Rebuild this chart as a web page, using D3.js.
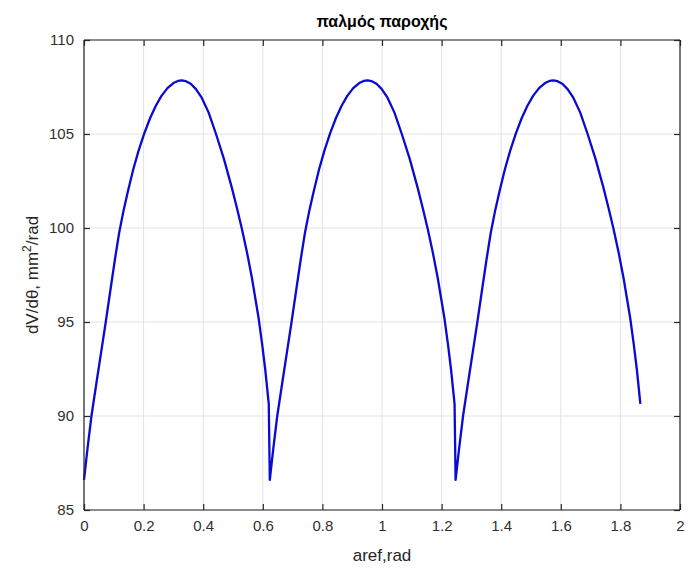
<!DOCTYPE html>
<html>
<head>
<meta charset="utf-8">
<script src="https://cdn.jsdelivr.net/npm/d3@7/dist/d3.min.js"></script>
<style>
  html, body { margin: 0; padding: 0; background: #fff; }
  svg { display: block; font-family: "Liberation Sans", Arial, Helvetica, sans-serif; }
</style>
</head>
<body>
<svg id="chart" width="690" height="572"></svg>
<script>
// ---- data ----
const titleText = "παλμός παροχής";
const xLabelText = "aref,rad";
const xTicks = [0, 0.2, 0.4, 0.6, 0.8, 1, 1.2, 1.4, 1.6, 1.8, 2];
const yTicks = [85, 90, 95, 100, 105, 110];
const xs = [
  0.000, 0.012, 0.025, 0.045, 0.060, 0.073, 0.090, 0.104, 0.118, 0.133, 0.148, 0.165, 0.183, 0.202, 0.222, 0.241,
  0.260, 0.280, 0.300, 0.315, 0.328, 0.342, 0.358, 0.375, 0.395, 0.418, 0.443, 0.470, 0.496, 0.513, 0.530, 0.547,
  0.564, 0.586, 0.598, 0.608, 0.620,
  0.6235, 0.6355, 0.6485, 0.6685, 0.6835, 0.6965, 0.7135, 0.7275, 0.7415, 0.7565, 0.7715, 0.7885, 0.8065, 0.8255, 0.8455, 0.8645,
  0.8835, 0.9035, 0.9235, 0.9385, 0.9515, 0.9655, 0.9815, 0.9985, 1.0185, 1.0415, 1.0665, 1.0935, 1.1195, 1.1365, 1.1535, 1.1705,
  1.1875, 1.2095, 1.2215, 1.2315, 1.2435,
  1.247, 1.259, 1.272, 1.292, 1.307, 1.320, 1.337, 1.351, 1.365, 1.380, 1.395, 1.412, 1.430, 1.449, 1.469, 1.488,
  1.507, 1.527, 1.547, 1.562, 1.575, 1.589, 1.605, 1.622, 1.642, 1.665, 1.690, 1.717, 1.743, 1.760, 1.777, 1.794,
  1.811, 1.833, 1.845, 1.855, 1.867
];
const ys = [
  86.6, 88.3, 90.0, 92.1, 93.65, 95.0, 96.85, 98.35, 99.75, 100.95, 102.0, 103.1, 104.1, 105.02, 105.85, 106.5,
  107.03, 107.44, 107.71, 107.82, 107.85, 107.81, 107.67, 107.4, 106.93, 106.15, 105.0, 103.65, 102.15, 101.08, 99.95, 98.7,
  97.3, 95.2, 93.8, 92.5, 90.65,
  86.6, 88.3, 90.0, 92.1, 93.65, 95.0, 96.85, 98.35, 99.75, 100.95, 102.0, 103.1, 104.1, 105.02, 105.85, 106.5,
  107.03, 107.44, 107.71, 107.82, 107.85, 107.81, 107.67, 107.4, 106.93, 106.15, 105.0, 103.65, 102.15, 101.08, 99.95, 98.7,
  97.3, 95.2, 93.8, 92.5, 90.65,
  86.6, 88.3, 90.0, 92.1, 93.65, 95.0, 96.85, 98.35, 99.75, 100.95, 102.0, 103.1, 104.1, 105.02, 105.85, 106.5,
  107.03, 107.44, 107.71, 107.82, 107.85, 107.81, 107.67, 107.4, 106.93, 106.15, 105.0, 103.65, 102.15, 101.08, 99.95, 98.7,
  97.3, 95.2, 93.8, 92.5, 90.65
];

// ---- layout ----
const L = 84, R = 680, T = 40, B = 510;
const svg = d3.select("#chart");
const x = d3.scaleLinear().domain([0, 2]).range([L, R]);
const y = d3.scaleLinear().domain([85, 110]).range([B, T]);
const axisColor = "#262626";
const tickLen = 6;

// grid
const grid = svg.append("g");
grid.selectAll("line.gx").data(xTicks).enter().append("line")
  .attr("x1", d => x(d)).attr("x2", d => x(d)).attr("y1", T).attr("y2", B)
  .attr("stroke", "#e3e3e3").attr("stroke-width", 1);
grid.selectAll("line.gy").data(yTicks).enter().append("line")
  .attr("x1", L).attr("x2", R).attr("y1", d => y(d)).attr("y2", d => y(d))
  .attr("stroke", "#e3e3e3").attr("stroke-width", 1);

// line
const pts = xs.map((v, i) => [v, ys[i]]);
svg.append("path")
  .datum(pts)
  .attr("fill", "none")
  .attr("stroke", "#0a0ad2")
  .attr("stroke-width", 2.3)
  .attr("stroke-linejoin", "round")
  .attr("d", d3.line().x(d => x(d[0])).y(d => y(d[1])).curve(d3.curveLinear));

// axes (inward ticks on all sides)
const fmt = d => String(d);
const xAxisB = d3.axisBottom(x).tickValues(xTicks).tickSize(-tickLen).tickPadding(10).tickFormat(fmt);
const xAxisT = d3.axisTop(x).tickValues(xTicks).tickSize(-tickLen).tickFormat("");
const yAxisL = d3.axisLeft(y).tickValues(yTicks).tickSize(-tickLen).tickPadding(10).tickFormat(fmt);
const yAxisR = d3.axisRight(y).tickValues(yTicks).tickSize(-tickLen).tickFormat("");

function style(g) {
  g.select(".domain").attr("stroke", axisColor).attr("stroke-width", 1.2);
  g.selectAll(".tick line").attr("stroke", axisColor).attr("stroke-width", 1.2);
  g.selectAll(".tick text").attr("fill", "#303030").attr("font-size", 15)
    .attr("font-family", "'Liberation Sans', Arial, sans-serif");
}
svg.append("g").attr("transform", `translate(0,${B})`).call(xAxisB).call(style)
  .call(g => g.select(".domain").attr("d", `M${L},0H${R}`));
svg.append("g").attr("transform", `translate(0,${T})`).call(xAxisT).call(style)
  .call(g => g.select(".domain").attr("d", `M${L},0H${R}`));
svg.append("g").attr("transform", `translate(${L},0)`).call(yAxisL).call(style)
  .call(g => g.select(".domain").attr("d", `M0,${T}V${B}`));
svg.append("g").attr("transform", `translate(${R},0)`).call(yAxisR).call(style)
  .call(g => g.select(".domain").attr("d", `M0,${T}V${B}`));

// title
svg.append("text")
  .attr("x", (L + R) / 2).attr("y", 27)
  .attr("text-anchor", "middle")
  .attr("font-size", 16).attr("font-weight", "bold").attr("fill", "#000")
  .text(titleText);

// x label
svg.append("text")
  .attr("x", (L + R) / 2).attr("y", 561)
  .attr("text-anchor", "middle")
  .attr("font-size", 17).attr("fill", "#262626")
  .text(xLabelText);

// y label
const yl = svg.append("text")
  .attr("transform", `translate(38,${(T + B) / 2}) rotate(-90)`)
  .attr("text-anchor", "middle")
  .attr("font-size", 17).attr("fill", "#262626");
yl.append("tspan").text("dV/dθ, mm");
yl.append("tspan").attr("dy", -7).attr("font-size", 12).text("2");
yl.append("tspan").attr("dy", 7).text("/rad");
</script>
</body>
</html>
